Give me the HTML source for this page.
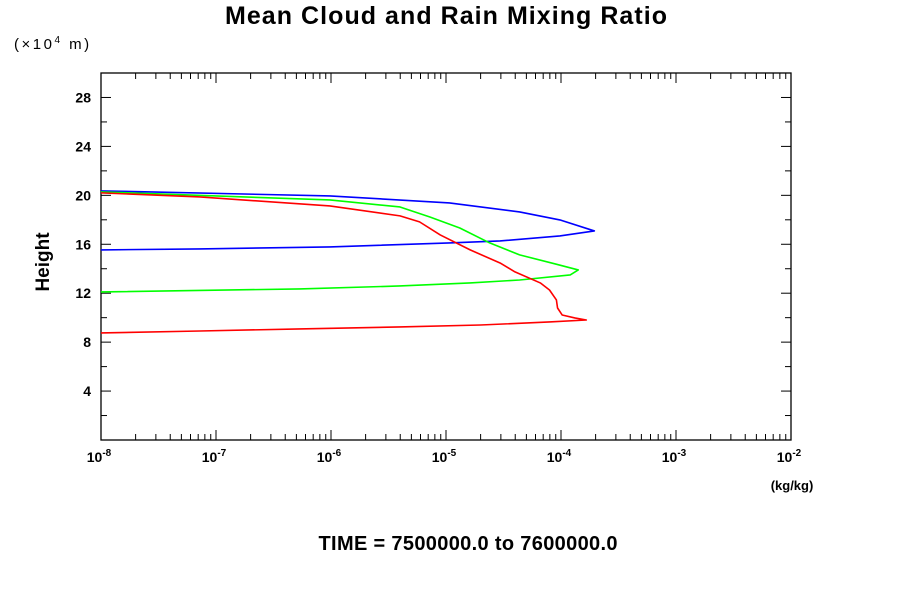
<!DOCTYPE html>
<html><head><meta charset="utf-8"><style>
body{margin:0;background:#fff;width:900px;height:600px;overflow:hidden}
svg{display:block;font-family:"Liberation Sans",sans-serif}
</style></head><body>
<svg id="chart" width="900" height="600">
<text x="446" y="24" text-anchor="middle" font-size="25" font-weight="bold" textLength="442">Mean Cloud and Rain Mixing Ratio</text>
<text x="14" y="49" font-size="15" letter-spacing="2.5">(×10<tspan dy="-6" font-size="10">4</tspan><tspan dy="6"> m)</tspan></text>
<text x="0" y="0" transform="translate(49,262) rotate(-90)" text-anchor="middle" font-size="19" font-weight="bold">Height</text>
<text x="792" y="490" text-anchor="middle" font-size="13" font-weight="bold">(kg/kg)</text>
<text x="468" y="550" text-anchor="middle" font-size="20" font-weight="bold" textLength="299">TIME = 7500000.0 to 7600000.0</text>
<g id="axes"></g>
<g id="series"></g>
</svg>
<script>
const xDecades=[-8,-7,-6,-5,-4,-3,-2];
const yTicks=[4,8,12,16,20,24,28];
const blueX=[-8,-7.57,-6.01,-4.97,-4.36,-4.01,-3.71,-4.01,-4.53,-4.97,-6.01,-7.14,-8];
const blueH=[20.36,20.28,19.95,19.38,18.64,17.99,17.09,16.68,16.27,16.11,15.78,15.62,15.54];
const greenX=[-8,-6.01,-5.40,-5.14,-4.88,-4.62,-4.36,-4.05,-3.85,-3.92,-4.36,-4.79,-5.40,-6.27,-8];
const greenH=[20.28,19.62,19.05,18.23,17.33,16.11,15.13,14.39,13.90,13.49,13.08,12.84,12.59,12.35,12.10];
const redX=[-8,-7.14,-6.01,-5.40,-5.23,-5.05,-4.79,-4.53,-4.40,-4.18,-4.10,-4.04,-4.03,-3.99,-3.88,-3.78,-4.10,-4.70,-5.40,-6.27,-7.14,-8];
const redH=[20.20,19.87,19.13,18.32,17.83,16.76,15.54,14.47,13.74,12.84,12.26,11.45,10.79,10.22,9.98,9.81,9.65,9.40,9.24,9.08,8.91,8.75];

const L=101,R=791,T=73,B=440,xmin=-8,xmax=-2,ymin=0,ymax=30;
const sx=v=>L+(v-xmin)/(xmax-xmin)*(R-L);
const sy=v=>B-(v-ymin)/(ymax-ymin)*(B-T);
const NS="http://www.w3.org/2000/svg";
const axes=document.getElementById('axes'),ser=document.getElementById('series');
function mk(tag,attrs,parent){const e=document.createElementNS(NS,tag);for(const k in attrs)e.setAttribute(k,attrs[k]);parent.appendChild(e);return e;}
const frame=mk('rect',{x:L,y:T,width:R-L,height:B-T,fill:'none',stroke:'#000','stroke-width':1.3},axes);


xDecades.forEach((d,i)=>{
  const x=sx(d);
  const t1=mk('line',{x1:x,x2:x,y1:B,y2:B-10,stroke:'#000'},axes);
  
  
  mk('line',{x1:x,x2:x,y1:T,y2:T+10,stroke:'#000'},axes);
  const lb=mk('text',{x:x-2,y:462,'text-anchor':'middle','font-size':14,'font-weight':'bold'},axes);
  
  
  lb.innerHTML='10<tspan dy="-6" font-size="10">'+d+'</tspan>';
  if(i<xDecades.length-1){for(let m=2;m<=9;m++){const xm=sx(d+Math.log10(m));
    mk('line',{x1:xm,x2:xm,y1:B,y2:B-6,stroke:'#000'},axes);
    mk('line',{x1:xm,x2:xm,y1:T,y2:T+6,stroke:'#000'},axes);}}
});
for(let h=2;h<30;h+=2){const y=sy(h),len=h%4===0?10:6;
  mk('line',{x1:L,x2:L+len,y1:y,y2:y,stroke:'#000'},axes);
  mk('line',{x1:R,x2:R-len,y1:y,y2:y,stroke:'#000'},axes);}
yTicks.forEach(v=>{const t=mk('text',{x:91,y:sy(v)+5,'text-anchor':'end','font-size':14,'font-weight':'bold'},axes);
  
  
  t.textContent=v;});
function line(xs,hs,color,name){const p=mk('polyline',{points:xs.map((x,i)=>sx(x)+','+sy(hs[i])).join(' '),fill:'none',stroke:color,'stroke-width':1.6,'stroke-linejoin':'round'},ser);
  
  }
line(blueX,blueH,'#0000ff','blue-series');
line(greenX,greenH,'#00ff00','green-series');
line(redX,redH,'#ff0000','red-series');
</script>
</body></html>
